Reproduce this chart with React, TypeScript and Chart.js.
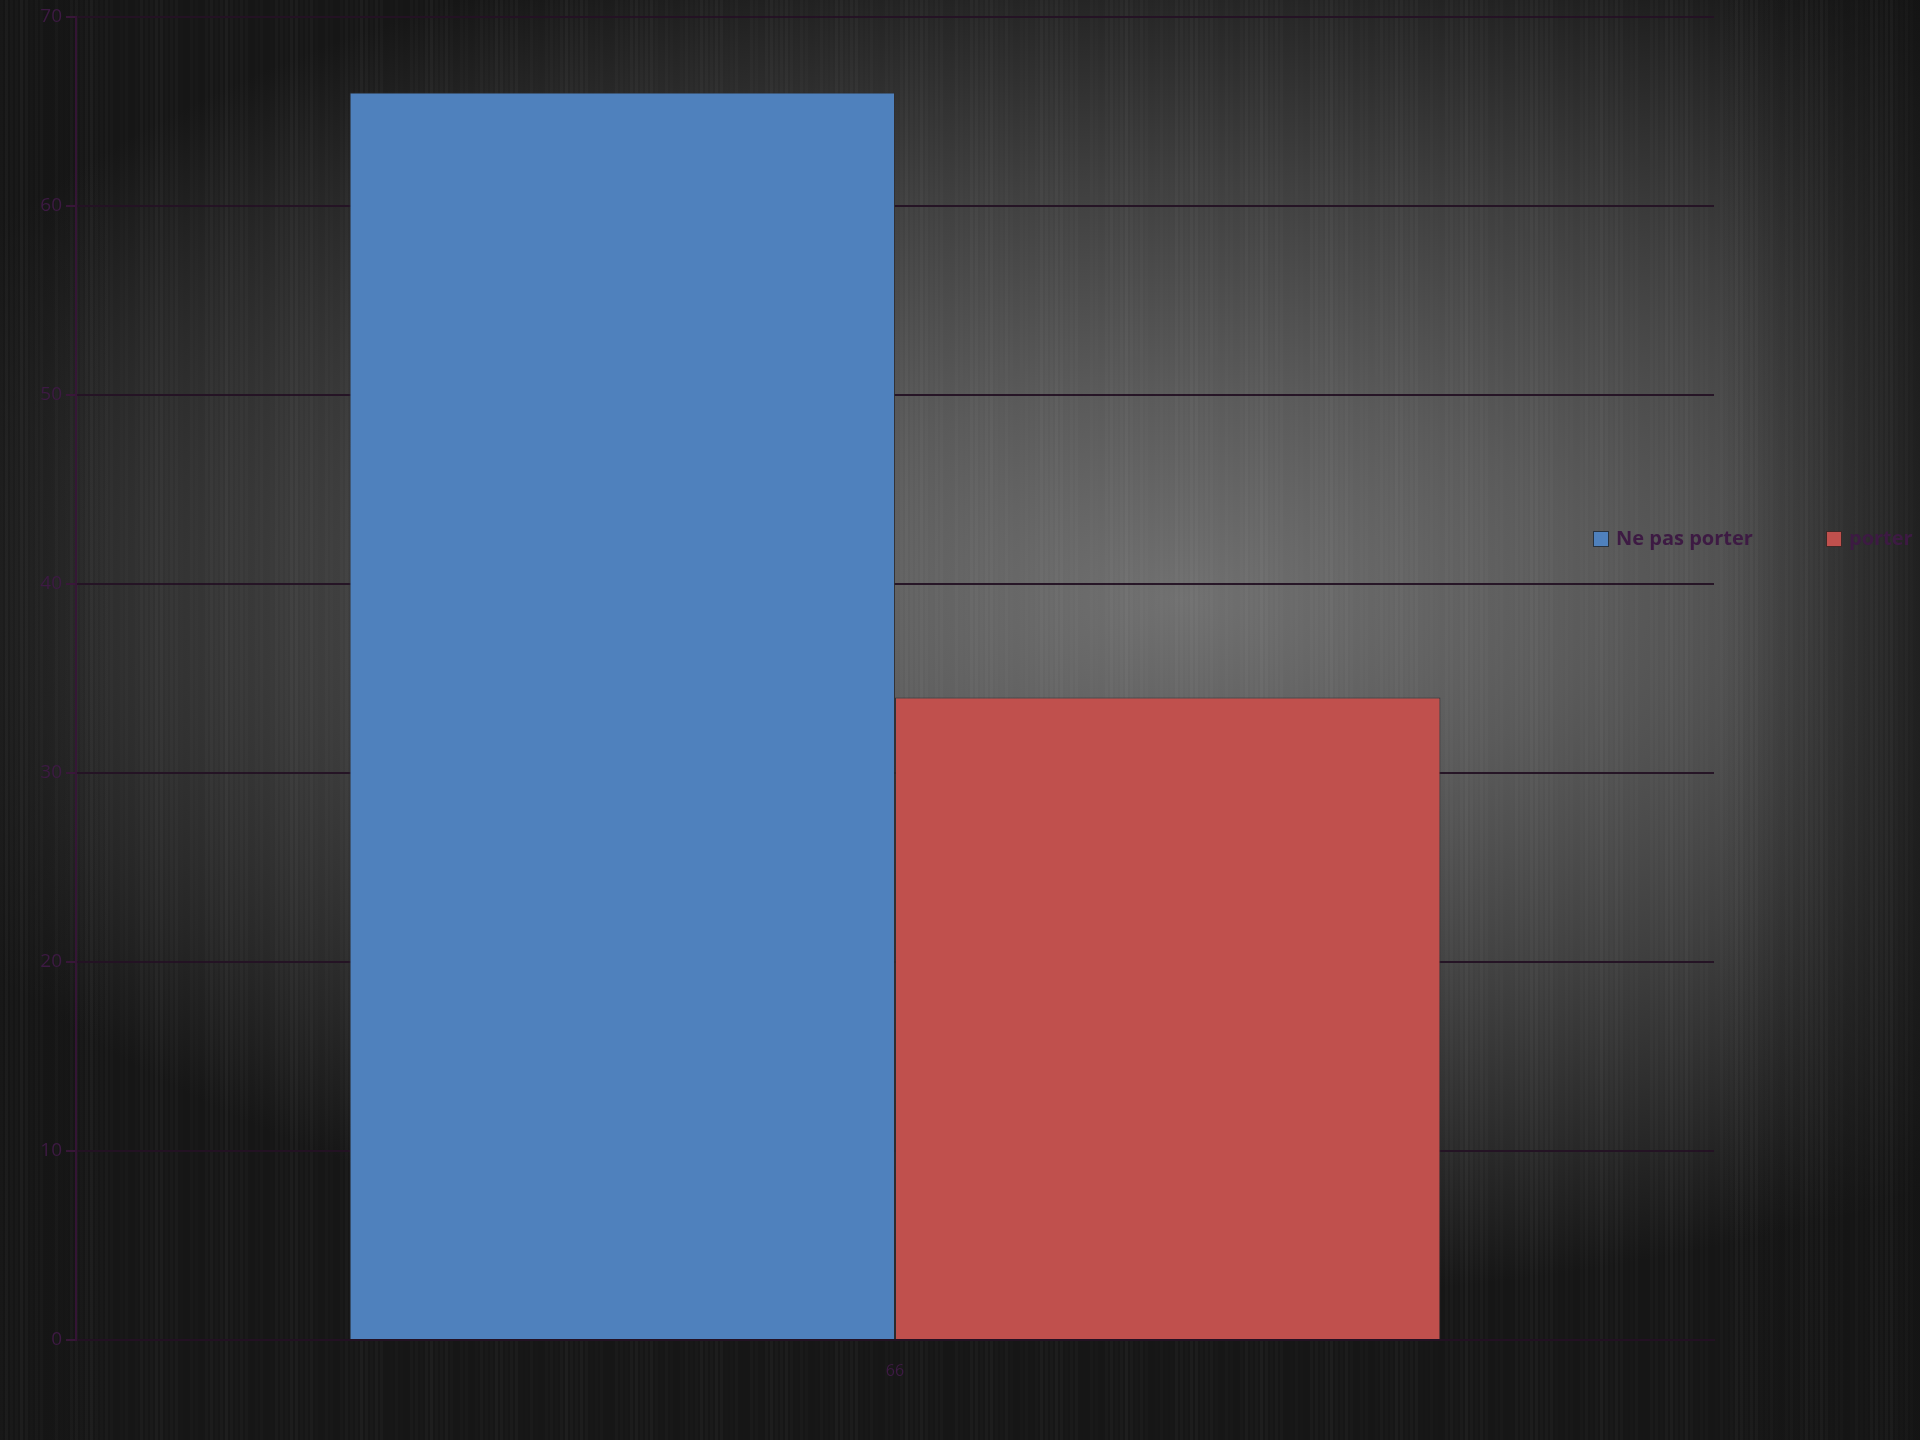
import React, { useEffect, useRef } from "react";
import { Chart, registerables } from "chart.js";

Chart.register(...registerables);

const categories = ["66"];
const seriesLabels = ["Ne pas porter", "porter"];
const nePasPorter = [66];
const porter = [34];
const yMin = 0;
const yMax = 70;
const yStep = 10;

const textColor = "#3d1a43";
const gridColor = "rgba(36,18,36,0.95)";

const bgPlugin = {
  id: "bgPlugin",
  beforeDraw(chart: any) {
    const { ctx, width, height } = chart;
    ctx.save();
    ctx.fillStyle = "#161616";
    ctx.fillRect(0, 0, width, height);
    ctx.translate(1180, 600);
    ctx.scale(2.0, 1);
    const g = ctx.createRadialGradient(0, 0, 0, 0, 0, 700);
    g.addColorStop(0, "#707070");
    g.addColorStop(0.3, "#5a5a5a");
    g.addColorStop(0.6, "#3f3f3f");
    g.addColorStop(0.85, "#262626");
    g.addColorStop(1, "#161616");
    ctx.fillStyle = g;
    ctx.fillRect(-1400, -1000, 2800, 2000);
    ctx.restore();
    // edge vignette
    ctx.save();
    const r = ctx.createLinearGradient(1720, 0, 1920, 0);
    r.addColorStop(0, "rgba(20,20,20,0)");
    r.addColorStop(1, "rgba(20,20,20,0.75)");
    ctx.fillStyle = r;
    ctx.fillRect(1720, 0, 200, height);
    const l = ctx.createLinearGradient(0, 0, 110, 0);
    l.addColorStop(0, "rgba(20,20,20,0.6)");
    l.addColorStop(1, "rgba(20,20,20,0)");
    ctx.fillStyle = l;
    ctx.fillRect(0, 0, 110, height);
    ctx.restore();
    // subtle vertical streaks (decorative texture)
    ctx.save();
    for (let x = 0; x < width; x += 5) {
      const a = 0.035 * (Math.sin(x * 0.37) + Math.sin(x * 0.091) + 2) / 4;
      ctx.fillStyle = `rgba(255,255,255,${a})`;
      ctx.fillRect(x, 0, 3, height);
    }
    ctx.restore();
  },
};

const legendPlugin = {
  id: "customLegend",
  afterDraw(chart: any) {
    const { ctx } = chart;
    const positions = [1593, 1826];
    const y = 539;
    ctx.save();
    ctx.font = "bold 20px 'Open Sans', sans-serif";
    ctx.textBaseline = "middle";
    chart.data.datasets.forEach((ds: any, i: number) => {
      const x = positions[i];
      ctx.fillStyle = ds.backgroundColor;
      ctx.strokeStyle = "rgba(30,30,30,0.8)";
      ctx.lineWidth = 1;
      ctx.fillRect(x, y - 8, 16, 16);
      ctx.strokeRect(x + 0.5, y - 7.5, 15, 15);
      ctx.fillStyle = textColor;
      ctx.fillText(ds.label, x + 23, y);
    });
    ctx.restore();
  },
};

export default function App() {
  const ref = useRef<HTMLCanvasElement | null>(null);
  useEffect(() => {
    document.body.style.margin = "0";
    const canvas = ref.current!;
    const chart = new Chart(canvas, {
      type: "bar",
      data: {
        labels: categories,
        datasets: [
          {
            label: seriesLabels[0],
            data: nePasPorter,
            backgroundColor: "#4f81bd",
            borderColor: "rgba(45,45,50,0.9)",
            borderWidth: 1,
          },
          {
            label: seriesLabels[1],
            data: porter,
            backgroundColor: "#c0504d",
            borderColor: "rgba(45,45,50,0.9)",
            borderWidth: 1,
          },
        ],
      },
      options: {
        animation: false,
        responsive: false,
        devicePixelRatio: 1,
        layout: { padding: { top: 17, right: 206, left: 0, bottom: 0 } },
        datasets: { bar: { categoryPercentage: 0.666, barPercentage: 1.0 } },
        plugins: {
          legend: { display: false },
          tooltip: { enabled: false },
        },
        scales: {
          x: {
            grid: { display: false, drawTicks: false },
            border: { display: true, color: gridColor, width: 2 },
            ticks: {
              color: textColor,
              font: { size: 16, family: "'Open Sans', sans-serif" },
              padding: 22,
            },
            afterFit(scale: any) {
              scale.height = 100;
            },
          },
          y: {
            min: yMin,
            max: yMax,
            ticks: {
              stepSize: yStep,
              color: textColor,
              font: { size: 19, family: "'Open Sans', sans-serif" },
              padding: 4,
            },
            grid: {
              color: gridColor,
              lineWidth: 2,
              tickLength: 10,
              tickColor: "rgba(60,22,60,0.9)",
            },
            border: { display: true, color: "rgba(55,20,55,0.9)", width: 2 },
            afterFit(scale: any) {
              scale.width = 76;
            },
          },
        },
      },
      plugins: [bgPlugin, legendPlugin],
    });
    return () => chart.destroy();
  }, []);
  return (
    <div style={{ width: 1920, height: 1440 }}>
      <canvas ref={ref} width={1920} height={1440} />
    </div>
  );
}
